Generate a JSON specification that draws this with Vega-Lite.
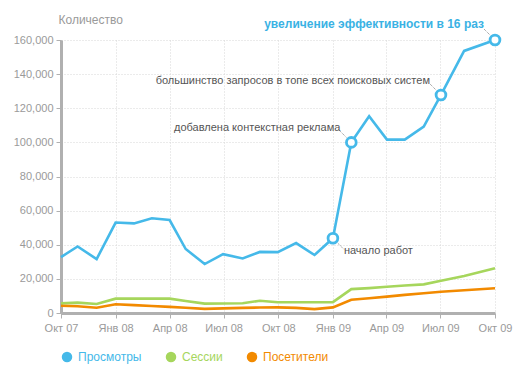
{
  "$schema": "https://vega.github.io/schema/vega-lite/v6.json",
  "autosize": "none",
  "width": 434,
  "height": 273,
  "padding": {"left": 61, "top": 40, "right": 31, "bottom": 79},
  "background": "white",
  "config": {
    "view": {"stroke": null},
    "font": "Liberation Sans",
    "axis": {
      "labelColor": "#9a9a9a",
      "labelFontSize": 11,
      "labelFont": "Liberation Sans",
      "tickColor": "#b0b0b0",
      "tickSize": 5,
      "domainColor": "#b0b0b0",
      "domainWidth": 3,
      "gridColor": "#d6d6d6",
      "gridDash": [1, 2],
      "labelFlush": false,
      "labelOverlap": false,
      "labelBound": false
    }
  },
  "datasets": {
    "series": [
      {"date": "2007-10-01T00:00", "Просмотры": 32800, "Сессии": 5700, "Посетители": 4300},
      {"date": "2007-10-29T00:00", "Просмотры": 39000, "Сессии": 6100, "Посетители": 4000},
      {"date": "2007-11-30T00:00", "Просмотры": 31600, "Сессии": 5300, "Посетители": 3100},
      {"date": "2008-01-01T00:00", "Просмотры": 53000, "Сессии": 8400, "Посетители": 5100},
      {"date": "2008-02-01T00:00", "Просмотры": 52500, "Сессии": 8400, "Посетители": 4600},
      {"date": "2008-03-02T00:00", "Просмотры": 55500, "Сессии": 8400, "Посетители": 4100},
      {"date": "2008-04-01T00:00", "Просмотры": 54500, "Сессии": 8400, "Посетители": 3600},
      {"date": "2008-04-28T00:00", "Просмотры": 37500, "Сессии": 7000, "Посетители": 3100},
      {"date": "2008-05-30T00:00", "Просмотры": 28700, "Сессии": 5500, "Посетители": 2400},
      {"date": "2008-06-30T00:00", "Просмотры": 34500, "Сессии": 5600, "Посетители": 2700},
      {"date": "2008-08-02T00:00", "Просмотры": 32000, "Сессии": 5700, "Посетители": 3000},
      {"date": "2008-08-31T00:00", "Просмотры": 35800, "Сессии": 7200, "Посетители": 3200},
      {"date": "2008-09-30T00:00", "Просмотры": 35700, "Сессии": 6300, "Посетители": 3300},
      {"date": "2008-10-31T00:00", "Просмотры": 41000, "Сессии": 6300, "Посетители": 3000},
      {"date": "2008-12-01T00:00", "Просмотры": 34000, "Сессии": 6300, "Посетители": 2300},
      {"date": "2009-01-01T00:00", "Просмотры": 43800, "Сессии": 6400, "Посетители": 3300},
      {"date": "2009-02-01T00:00", "Просмотры": 100000, "Сессии": 14000, "Посетители": 7800},
      {"date": "2009-03-03T00:00", "Просмотры": 115300, "Сессии": 14600, "Посетители": 8600},
      {"date": "2009-04-02T00:00", "Просмотры": 101600, "Сессии": 15400, "Посетители": 9600},
      {"date": "2009-05-02T00:00", "Просмотры": 101600, "Сессии": 16100, "Посетители": 10600},
      {"date": "2009-06-03T00:00", "Просмотры": 109200, "Сессии": 16800, "Посетители": 11600},
      {"date": "2009-07-02T00:00", "Просмотры": 127800, "Сессии": 18900, "Посетители": 12500},
      {"date": "2009-08-10T00:00", "Просмотры": 153600, "Сессии": 21700, "Посетители": 13300},
      {"date": "2009-10-01T00:00", "Просмотры": 160000, "Сессии": 26200, "Посетители": 14500}
    ],
    "notes": [
      {"date": "2009-01-01T00:00", "value": 43800, "label": "начало работ", "kind": "start"},
      {"date": "2009-02-01T00:00", "value": 100000, "label": "добавлена контекстная реклама", "kind": "milestone"},
      {"date": "2009-07-02T00:00", "value": 127800, "label": "большинство запросов в топе всех поисковых систем", "kind": "milestone"},
      {"date": "2009-10-01T00:00", "value": 160000, "label": "увеличение эффективности в 16 раз", "kind": "result"}
    ]
  },
  "encoding": {
    "x": {
      "field": "date", "type": "temporal",
      "scale": {"domain": [{"year": 2007, "month": 10, "date": 1}, {"year": 2009, "month": 10, "date": 1}]},
      "axis": {
        "title": null,
        "grid": true,
        "labelPadding": 4,
        "labelOverlap": false,
        "values": [
          {"year": 2007, "month": 10, "date": 1},
          {"year": 2008, "month": 1, "date": 1},
          {"year": 2008, "month": 4, "date": 1},
          {"year": 2008, "month": 7, "date": 1},
          {"year": 2008, "month": 10, "date": 1},
          {"year": 2009, "month": 1, "date": 1},
          {"year": 2009, "month": 4, "date": 1},
          {"year": 2009, "month": 7, "date": 1},
          {"year": 2009, "month": 10, "date": 1}
        ],
        "labelExpr": "['Янв','Фев','Мар','Апр','Май','Июн','Июл','Авг','Сен','Окт','Ноя','Дек'][month(datum.value)] + ' ' + timeFormat(datum.value, '%y')"
      }
    },
    "y": {
      "field": "value", "type": "quantitative",
      "scale": {"domain": [0, 160000], "nice": false},
      "axis": {
        "values": [0, 20000, 40000, 60000, 80000, 100000, 120000, 140000, 160000],
        "format": ",d",
        "grid": true,
        "labelOverlap": false,
        "labelPadding": 3,
        "title": "Количество",
        "titleAngle": 0,
        "titleAlign": "left",
        "titleBaseline": "middle",
        "titleX": -3,
        "titleY": -21,
        "titleColor": "#9a9a9a",
        "titleFontSize": 12,
        "titleFontWeight": "normal",
        "titleFont": "Liberation Sans"
      }
    }
  },
  "layer": [
    {
      "data": {"name": "series"},
      "transform": [{"fold": ["Посетители", "Сессии", "Просмотры"], "as": ["series", "value"]}],
      "mark": {"type": "line", "strokeWidth": 2.6, "interpolate": "linear"},
      "encoding": {
        "color": {
          "field": "series", "type": "nominal",
          "scale": {
            "domain": ["Просмотры", "Сессии", "Посетители"],
            "range": ["#45B9E9", "#A6D65C", "#F28A00"]
          },
          "legend": {
            "title": null,
            "orient": "none",
            "direction": "horizontal",
            "legendX": 0,
            "legendY": 311,
            "padding": 0,
            "symbolType": "circle",
            "symbolSize": 110,
            "symbolStrokeWidth": 0,
            "labelFontSize": 12,
            "labelFont": "Liberation Sans",
            "labelOffset": 5,
            "columnPadding": 23,
            "encode": {
              "symbols": {"update": {"fill": {"signal": "scale('color', datum.value)"}, "fillOpacity": {"value": 1}, "strokeWidth": {"value": 0}}},
              "labels": {"update": {"fill": {"signal": "scale('color', datum.value)"}}}
            }
          }
        }
      }
    },
    {
      "data": {"name": "notes"},
      "transform": [{"filter": "datum.kind != 'start'"}],
      "mark": {"type": "rule", "color": "#888888", "strokeWidth": 1, "strokeDash": [1, 1], "xOffset": -11, "yOffset": -11, "x2Offset": -5, "y2Offset": -5},
      "encoding": {
        "x2": {"field": "date"},
        "y2": {"field": "value"}
      }
    },
    {
      "data": {"name": "notes"},
      "transform": [{"filter": "datum.kind == 'start'"}],
      "mark": {"type": "rule", "color": "#888888", "strokeWidth": 1, "strokeDash": [1, 1], "xOffset": 5, "yOffset": 5, "x2Offset": 11, "y2Offset": 11},
      "encoding": {
        "x2": {"field": "date"},
        "y2": {"field": "value"}
      }
    },
    {
      "data": {"name": "notes"},
      "mark": {"type": "point", "shape": "circle", "filled": true, "fill": "white", "stroke": "#45B9E9", "strokeWidth": 2.8, "size": 95, "opacity": 1}
    },
    {
      "data": {"name": "notes"},
      "transform": [{"filter": "datum.kind == 'milestone'"}],
      "mark": {"type": "text", "align": "right", "baseline": "middle", "dx": -11, "dy": -14, "fontSize": 11, "color": "#555555", "font": "Liberation Sans"},
      "encoding": {
        "text": {"field": "label"}
      }
    },
    {
      "data": {"name": "notes"},
      "transform": [{"filter": "datum.kind == 'result'"}],
      "mark": {"type": "text", "align": "right", "baseline": "middle", "dx": -11, "dy": -16, "fontSize": 12, "fontWeight": "bold", "color": "#3AB2E4", "font": "Liberation Sans"},
      "encoding": {
        "text": {"field": "label"}
      }
    },
    {
      "data": {"name": "notes"},
      "transform": [{"filter": "datum.kind == 'start'"}],
      "mark": {"type": "text", "align": "left", "baseline": "middle", "dx": 11, "dy": 13, "fontSize": 11, "color": "#555555", "font": "Liberation Sans"},
      "encoding": {
        "text": {"field": "label"}
      }
    }
  ]
}
